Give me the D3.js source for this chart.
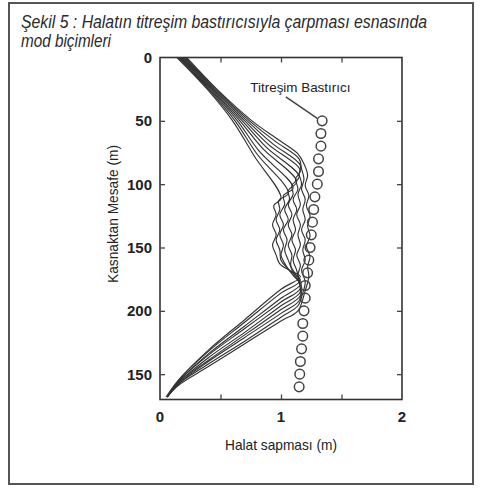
<!DOCTYPE html>
<html>
<head>
<meta charset="utf-8">
<script src="https://cdn.jsdelivr.net/npm/d3@7"></script>
<style>
  html, body { margin: 0; padding: 0; background: #fff; }
  svg { display: block; }
  .narrow { font-family: "Liberation Sans Narrow", "Arial Narrow", "Liberation Sans", Arial, sans-serif; }
  .bold { font-family: "Liberation Sans", Arial, sans-serif; font-weight: bold; }
</style>
</head>
<body>
<script>
// ---------- data ----------
const titleLines = ["Şekil 5 : Halatın titreşim bastırıcısıyla çarpması esnasında", "mod biçimleri"];
const xLabel = "Halat sapması (m)";
const yLabel = "Kasnaktan Mesafe (m)";
const damperLabel = "Titreşim Bastırıcı";

const xTickValues = [0, 1, 2];
const xTickLabels = ["0", "1", "2"];
const xMinorTicks = [0.5, 1, 1.5];
const yTickValues = [0, 50, 100, 150, 200, 250];
const yTickLabels = ["0", "50", "100", "150", "200", "150"];
const yMinorTicks = [50, 100, 150, 200, 250];

// damper (titreşim bastırıcı) positions: depth (m) and deflection (m)
const damperDepth = [50, 60, 70, 80, 90, 100, 110, 120, 130, 140, 150, 160, 170, 180, 190, 200, 210, 220, 230, 240, 250, 260];
const damperX     = [1.34, 1.33, 1.33, 1.31, 1.31, 1.30, 1.28, 1.27, 1.26, 1.25, 1.24, 1.23, 1.22, 1.20, 1.20, 1.19, 1.18, 1.18, 1.17, 1.16, 1.155, 1.15];

// mode shapes: [deflection (m), depth (m)]
const mode1 = [[0.22,0],[0.47,25],[0.76,50],[0.98,65],[1.14,76],[1.19,84],[1.22,93],[1.20,101],[1.23,109],[1.21,117],[1.24,125],[1.22,133],[1.24,141],[1.21,149],[1.24,157],[1.22,165],[1.23,173],[1.20,184],[1.14,200],[1.00,208],[0.70,226],[0.40,244],[0.15,259],[0.06,268]];
const mode2 = [[0.21,0],[0.46,25],[0.74,50],[0.95,66],[1.15,80],[1.17,88],[1.19,96],[1.17,104],[1.20,112],[1.18,120],[1.20,128],[1.17,136],[1.20,144],[1.18,152],[1.20,160],[1.17,168],[1.20,177],[1.18,186],[1.14,196],[1.00,205],[0.70,224],[0.40,242],[0.15,258],[0.06,268]];
const mode3 = [[0.20,0],[0.45,25],[0.72,50],[0.93,68],[1.16,85],[1.15,92],[1.17,100],[1.14,108],[1.16,116],[1.13,124],[1.16,132],[1.14,140],[1.16,148],[1.13,156],[1.16,164],[1.14,172],[1.17,181],[1.15,192],[1.00,202],[0.70,221],[0.40,240],[0.15,258],[0.06,268]];
const mode4 = [[0.19,0],[0.44,25],[0.70,50],[0.90,69],[1.16,89],[1.12,96],[1.14,104],[1.10,112],[1.13,120],[1.10,128],[1.12,136],[1.09,144],[1.12,152],[1.10,160],[1.13,168],[1.15,177],[1.16,188],[1.00,199],[0.70,219],[0.40,239],[0.15,257],[0.06,268]];
const mode5 = [[0.18,0],[0.43,25],[0.68,50],[0.88,71],[1.15,94],[1.09,101],[1.10,108],[1.06,116],[1.09,124],[1.06,132],[1.09,140],[1.06,148],[1.09,156],[1.08,164],[1.13,173],[1.16,185],[1.00,196],[0.70,217],[0.40,237],[0.15,257],[0.06,268]];
const mode6 = [[0.17,0],[0.42,25],[0.66,50],[0.85,72],[1.13,98],[1.06,105],[1.07,112],[1.03,120],[1.06,128],[1.02,136],[1.05,144],[1.03,152],[1.06,160],[1.10,170],[1.16,182],[1.00,193],[0.70,214],[0.40,235],[0.15,256],[0.06,268]];
const mode7 = [[0.16,0],[0.41,25],[0.64,50],[0.82,74],[1.10,103],[1.02,109],[1.03,116],[0.99,124],[1.02,132],[0.99,140],[1.02,148],[1.00,156],[1.04,164],[1.10,172],[1.16,179],[1.00,190],[0.70,212],[0.40,234],[0.15,256],[0.06,268]];
const mode8 = [[0.15,0],[0.40,25],[0.62,50],[0.80,76],[1.06,107],[0.98,113],[0.99,120],[0.96,128],[0.99,136],[0.96,144],[0.99,152],[1.00,160],[1.07,168],[1.16,176],[1.00,186],[0.70,209],[0.40,232],[0.15,255],[0.06,268]];
const mode9 = [[0.14,0],[0.39,25],[0.60,50],[0.78,78],[1.00,111],[0.94,117],[0.96,124],[0.93,132],[0.96,140],[0.93,148],[0.96,156],[0.99,163],[1.07,168],[1.16,173],[1.00,183],[0.70,207],[0.40,231],[0.15,255],[0.05,268]];
const modes = [mode1, mode2, mode3, mode4, mode5, mode6, mode7, mode8, mode9];

// label leader line endpoints in data units: [deflection, depth]
const leaderFrom = [1.04, 31];
const leaderTo = [1.30, 48];
const labelAt = [1.16, 27];

// ---------- drawing ----------
const W = 485, H = 489;
const svg = d3.select("body").append("svg").attr("width", W).attr("height", H);

// outer frame
svg.append("rect").attr("x", 9).attr("y", 3).attr("width", 464).attr("height", 481)
  .attr("fill", "none").attr("stroke", "#555").attr("stroke-width", 2);

// title
const title = svg.append("text").attr("class", "narrow").attr("font-style", "italic")
  .attr("font-size", 18).attr("fill", "#2a2a2a");
title.append("tspan").attr("x", 21).attr("y", 28).attr("textLength", 406).attr("lengthAdjust", "spacingAndGlyphs").text(titleLines[0]);
title.append("tspan").attr("x", 21).attr("y", 47).attr("textLength", 90).attr("lengthAdjust", "spacingAndGlyphs").text(titleLines[1]);

const x = d3.scaleLinear().domain([0, 2]).range([160, 402]);
const y = d3.scaleLinear().domain([0, 270]).range([57.5, 399.5]);

// mode shape curves
const line = d3.line().x(d => x(d[0])).y(d => y(d[1])).curve(d3.curveCatmullRom.alpha(0.5));
svg.append("g").selectAll("path").data(modes).join("path")
  .attr("d", line).attr("fill", "none").attr("stroke", "#333").attr("stroke-width", 1.15);

// dampers
svg.append("g").selectAll("circle").data(damperDepth).join("circle")
  .attr("cx", (d, i) => x(damperX[i])).attr("cy", d => y(d)).attr("r", 4.8)
  .attr("fill", "none").attr("stroke", "#444").attr("stroke-width", 1.5);

// plot frame
svg.append("rect").attr("x", x(0)).attr("y", y(0)).attr("width", x(2) - x(0)).attr("height", y(270) - y(0))
  .attr("fill", "none").attr("stroke", "#333").attr("stroke-width", 1.6);

// axes (inward ticks)
const tickLen = 5;
const axB = svg.append("g").attr("transform", `translate(0,${y(270)})`)
  .call(d3.axisTop(x).tickValues(xMinorTicks).tickSize(tickLen).tickFormat(""));
const axT = svg.append("g").attr("transform", `translate(0,${y(0)})`)
  .call(d3.axisBottom(x).tickValues(xMinorTicks).tickSize(tickLen).tickFormat(""));
const axL = svg.append("g").attr("transform", `translate(${x(0)},0)`)
  .call(d3.axisRight(y).tickValues(yMinorTicks).tickSize(tickLen).tickFormat(""));
const axR = svg.append("g").attr("transform", `translate(${x(2)},0)`)
  .call(d3.axisLeft(y).tickValues(yMinorTicks).tickSize(tickLen).tickFormat(""));
[axB, axT, axL, axR].forEach(g => {
  g.select(".domain").remove();
  g.selectAll("line").attr("stroke", "#444").attr("stroke-width", 1.3);
});

// tick labels
svg.append("g").selectAll("text").data(xTickValues).join("text")
  .attr("class", "bold").attr("font-size", 15).attr("fill", "#222")
  .attr("x", d => x(d)).attr("y", 422).attr("text-anchor", "middle")
  .text((d, i) => xTickLabels[i]);
svg.append("g").selectAll("text").data(yTickValues).join("text")
  .attr("class", "bold").attr("font-size", 15).attr("fill", "#222")
  .attr("x", x(0) - 8).attr("y", d => y(d) + 5.5).attr("text-anchor", "end")
  .text((d, i) => yTickLabels[i]);

// axis titles
svg.append("text").attr("class", "narrow").attr("font-size", 15).attr("fill", "#222")
  .attr("x", 281).attr("y", 450).attr("text-anchor", "middle")
  .attr("textLength", 112).attr("lengthAdjust", "spacingAndGlyphs").text(xLabel);
svg.append("text").attr("class", "narrow").attr("font-size", 15).attr("fill", "#222")
  .attr("transform", `translate(118,214) rotate(-90)`).attr("text-anchor", "middle")
  .attr("textLength", 138).attr("lengthAdjust", "spacingAndGlyphs").text(yLabel);

// damper label with leader
svg.append("text").attr("class", "narrow").attr("font-size", 13).attr("fill", "#222")
  .attr("x", x(labelAt[0])).attr("y", y(labelAt[1])).attr("text-anchor", "middle")
  .attr("textLength", 100).attr("lengthAdjust", "spacingAndGlyphs").text(damperLabel);
svg.append("line")
  .attr("x1", x(leaderFrom[0])).attr("y1", y(leaderFrom[1]))
  .attr("x2", x(leaderTo[0])).attr("y2", y(leaderTo[1]))
  .attr("stroke", "#444").attr("stroke-width", 1.5);
</script>
</body>
</html>
